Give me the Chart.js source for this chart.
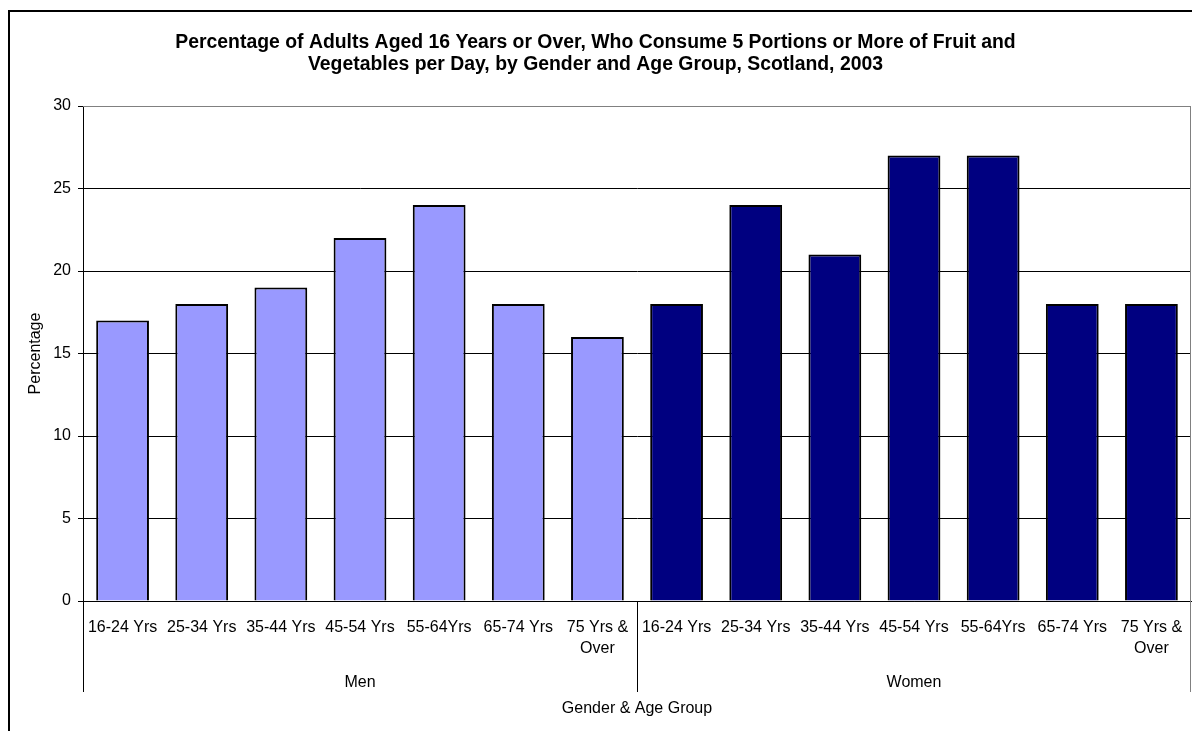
<!DOCTYPE html>
<html>
<head>
<meta charset="utf-8">
<script src="https://cdn.jsdelivr.net/npm/chart.js@4"></script>
<style>
  html, body { margin: 0; padding: 0; background: #fff; }
  #wrap { position: relative; width: 1192px; height: 731px; }
</style>
</head>
<body>
<div id="wrap"><canvas id="chart" width="1192" height="731"></canvas></div>
<script>
const ageGroups = [
    '16-24 Yrs', '25-34 Yrs', '35-44 Yrs', '45-54 Yrs', '55-64Yrs', '65-74 Yrs', ['75 Yrs &', 'Over']
];
const genders = ['Men', 'Women'];
const menValues = [17, 18, 19, 22, 24, 18, 16];
const womenValues = [18, 24, 21, 27, 27, 18, 18];
const yTicks = [0, 5, 10, 15, 20, 25, 30];

const labels = [...ageGroups, ...ageGroups];
const values = [...menValues, ...womenValues];
const colours = [...menValues.map(() => '#9999FF'), ...womenValues.map(() => '#000080')];

const FONT = 'Liberation Sans, Arial, sans-serif';

// frame + gender group labels under the category axis
const groupPlugin = {
    id: 'groups',
    beforeDraw(chart) {
        const c = chart.ctx;
        c.save();
        c.fillStyle = '#fff';
        c.fillRect(0, 0, chart.width, chart.height);
        c.strokeStyle = '#000';
        c.lineWidth = 2;
        c.beginPath();
        c.moveTo(9, chart.height);
        c.lineTo(9, 11);
        c.lineTo(chart.width, 11);
        c.stroke();
        c.restore();
    },
    afterDraw(chart) {
        const c = chart.ctx;
        const x = chart.scales.x;
        const area = chart.chartArea;
        const n = ageGroups.length;
        const lineBottom = area.bottom + 91;
        const bounds = [x.left];
        for (let g = 1; g < genders.length; g++) {
            bounds.push((x.getPixelForValue(g * n - 1) + x.getPixelForValue(g * n)) / 2);
        }
        bounds.push(x.right);
        c.save();
        c.lineWidth = 1;
        bounds.forEach((bx, i) => {
            const last = i === bounds.length - 1;
            c.strokeStyle = last ? '#808080' : '#000';
            c.beginPath();
            c.moveTo(Math.round(bx) - (last ? 0.5 : -0.5), last ? area.top : area.bottom);
            c.lineTo(Math.round(bx) - (last ? 0.5 : -0.5), lineBottom);
            c.stroke();
        });
        // gray plot border on top
        c.strokeStyle = '#808080';
        c.beginPath();
        c.moveTo(area.left, Math.round(area.top) + 0.5);
        c.lineTo(area.right, Math.round(area.top) + 0.5);
        c.stroke();
        c.fillStyle = '#000';
        c.font = '16px ' + FONT;
        c.textAlign = 'center';
        c.textBaseline = 'middle';
        genders.forEach((g, i) => {
            c.fillText(g, (bounds[i] + bounds[i + 1]) / 2, area.bottom + 82);
        });
        c.restore();
    }
};

new Chart(document.getElementById('chart').getContext('2d'), {
    type: 'bar',
    data: {
        labels: labels,
        datasets: [{
            data: values,
            backgroundColor: colours,
            borderColor: '#000',
            borderWidth: 2,
            borderSkipped: 'bottom',
            barPercentage: 0.667,
            categoryPercentage: 1
        }]
    },
    options: {
        responsive: false,
        animation: false,
        layout: { padding: { left: 0, right: 1, top: 0, bottom: 0 } },
        scales: {
            x: {
                offset: true,
                grid: { display: false, drawTicks: false },
                border: { display: true, color: '#000', width: 1 },
                ticks: {
                    color: '#000',
                    font: { family: FONT, size: 16, lineHeight: '21px' },
                    padding: 16,
                    maxRotation: 0,
                    autoSkip: false
                },
                title: {
                    display: true,
                    text: 'Gender & Age Group',
                    color: '#000',
                    font: { family: FONT, size: 16 },
                    padding: { top: 0, bottom: 13 }
                },
                afterFit(scale) {
                    scale.height = 130;
                    scale.paddingRight = 0;
                }
            },
            y: {
                min: 0,
                max: 30,
                afterBuildTicks(scale) { scale.ticks = yTicks.map(v => ({ value: v })); },
                grid: {
                    color: ctx => ctx.tick && ctx.tick.value === 30 ? '#808080' : '#000',
                    tickLength: 5,
                    tickColor: '#000'
                },
                border: { display: true, color: '#000', width: 1 },
                ticks: {
                    color: '#000',
                    font: { family: FONT, size: 16 },
                    padding: 7
                },
                title: {
                    display: true,
                    text: 'Percentage',
                    color: '#000',
                    font: { family: FONT, size: 16 },
                    padding: { top: 26, bottom: 0 }
                },
                afterFit(scale) { scale.width = 83; }
            }
        },
        plugins: {
            legend: { display: false },
            tooltip: { enabled: false },
            title: {
                display: true,
                text: [
                    'Percentage of Adults Aged 16 Years or Over, Who Consume 5 Portions or More of Fruit and',
                    'Vegetables per Day, by Gender and Age Group, Scotland, 2003'
                ],
                color: '#000',
                font: { family: FONT, size: 19.4, weight: 'bold', lineHeight: '22px' },
                padding: { top: 32, bottom: 30 }
            }
        }
    },
    plugins: [groupPlugin]
});
</script>
</body>
</html>
